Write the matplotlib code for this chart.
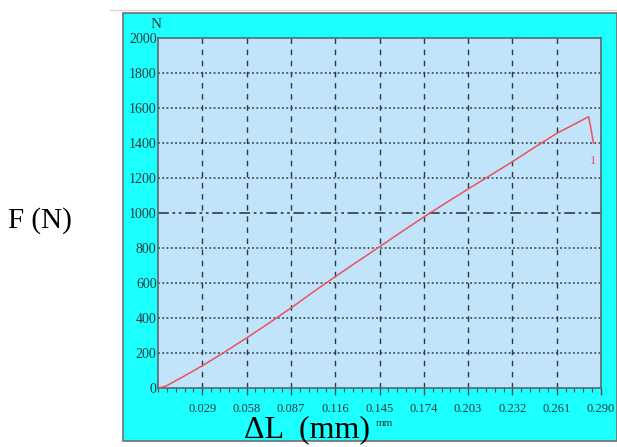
import matplotlib
matplotlib.use("Agg")
import matplotlib.pyplot as plt
from matplotlib.patches import Rectangle
import numpy as np

# data
dl_mm = [0.0, 0.005, 0.0145, 0.029, 0.0435, 0.058, 0.0725, 0.087, 0.1015, 0.116,
         0.1305, 0.145, 0.1595, 0.174, 0.1885, 0.203, 0.2175, 0.232, 0.2465, 0.261,
         0.272, 0.2819, 0.2835, 0.285]
force_n = [0, 10, 55, 127, 205, 286, 370, 457, 548, 636, 722, 807, 893, 977, 1058,
           1137, 1215, 1293, 1375, 1455, 1505, 1550, 1480, 1400]
x_ticks = [0.029, 0.058, 0.087, 0.116, 0.145, 0.174, 0.203, 0.232, 0.261, 0.290]
x_tick_labels = ["0.029", "0.058", "0.087", "0.116", "0.145", "0.174", "0.203", "0.232", "0.261", "0.290"]
y_ticks = [0, 200, 400, 600, 800, 1000, 1200, 1400, 1600, 1800, 2000]

W, H = 617, 447
fig = plt.figure(figsize=(W / 100, H / 100), dpi=100)
fig.patch.set_facecolor("white")

def fx(px):
    return px / W

def fy(py):
    return 1 - py / H

# faint top lines (table remnants)
fig.add_artist(plt.Line2D([fx(110), fx(617)], [fy(10), fy(10)], color="#d8d8d8", lw=1))
# cyan panel
panel = Rectangle((fx(123), fy(441)), fx(617 - 123), (441 - 13) / H,
                  transform=fig.transFigure, facecolor="#1cffff",
                  edgecolor="#707070", lw=1.2, zorder=0)
fig.add_artist(panel)

L, T, R, B = 158, 38, 601, 388
ax = fig.add_axes([fx(L), fy(B), fx(R - L), (B - T) / H])
ax.set_facecolor("#c2e4fa")
ax.set_xlim(0, 0.29)
ax.set_ylim(0, 2000)

serif = ["Liberation Serif", "DejaVu Serif"]

# grid
for v in x_ticks[:-1]:
    ax.axvline(v, color="#303840", lw=1.0, ls=(0, (4, 4)), zorder=1)
for v in y_ticks[1:-1]:
    if v == 1000:
        ax.axhline(v, color="#404850", lw=1.3, ls=(0, (6, 2, 1.5, 2, 1.5, 2)), zorder=1)
    else:
        ax.axhline(v, color="#303840", lw=1.1, ls=(0, (1.2, 1.6)), zorder=1)

ax.plot(dl_mm, force_n, color="#f0505a", lw=1.1, zorder=3)
ax.text(dl_mm[-1], force_n[-1] - 70, "1", color="#f0505a", fontsize=9,
        family=serif, ha="center", va="top", zorder=3)

for s in ax.spines.values():
    s.set_color("#5a6670")
    s.set_linewidth(1.2)

ax.set_xticks(x_ticks)
ax.set_xticklabels(x_tick_labels, family=serif, fontsize=9, color="#2a3a40")
ax.set_xticks(np.arange(0, 0.2901, 0.0058), minor=True)
ax.tick_params(axis="x", which="major", direction="out", length=5, width=1,
               color="#405058", pad=6)
ax.tick_params(axis="x", which="minor", direction="out", length=3, width=0.8,
               color="#405058")
ax.set_yticks(y_ticks)
ax.set_yticklabels([str(v) for v in y_ticks], family=serif, fontsize=10, color="#2a3a40")
ax.tick_params(axis="y", length=0, pad=1)

fig.text(fx(151), fy(24), "N", family=serif, fontsize=11, color="#2a3a40", va="center")
fig.text(fx(376), fy(423), "mm", family=serif, fontsize=8, color="#2a3a40", va="center")
fig.text(fx(8), fy(221), "F (N)", family=serif, fontsize=21, color="black", va="center")
fig.text(fx(244), fy(430), "\u0394L  (mm)", family=serif, fontsize=23, color="black", va="center")

fig.savefig("out.png", dpi=100, facecolor=fig.get_facecolor())
